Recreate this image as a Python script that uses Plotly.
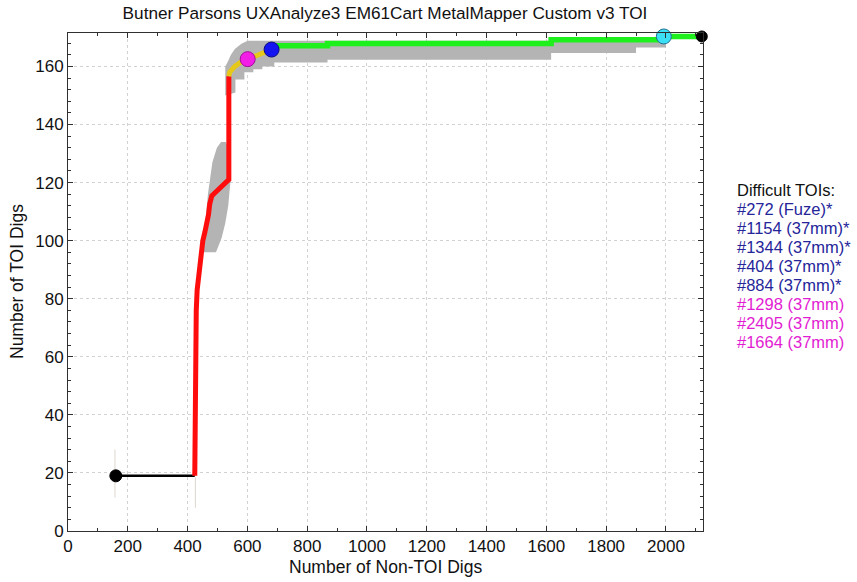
import plotly.graph_objects as go

# ---------------- data ----------------
title_text = "Butner Parsons UXAnalyze3 EM61Cart MetalMapper Custom v3 TOI"
x_title = "Number of Non-TOI Digs"
y_title = "Number of TOI Digs"

# initial black segment
black_x = [160, 424]
black_y = [19, 19]

# red portion of the curve
red_x = [424, 425, 427, 429, 432, 437, 444, 451, 458, 464, 470, 474, 481, 490, 497, 508, 518, 530, 538, 538]
red_y = [19, 50, 68, 76, 83, 88, 94, 100, 103, 105.7, 109, 112.6, 115.4, 116.3, 117, 118.3, 119.5, 120.3, 121, 156.6]

# yellow portion
yellow_x = [538, 541, 558, 581, 601, 634, 681]
yellow_y = [156.6, 158, 160, 161.7, 162.5, 164, 165.8]

# green portion
green_x = [681, 700, 868, 868, 1616, 1616, 1990, 1993, 2120]
green_y = [165.8, 167.1, 167.1, 167.9, 167.9, 169.2, 169.2, 170.3, 170.3]

# gray uncertainty bands (polygons)
band1_x = [450, 456, 463, 468, 475, 483, 498, 512, 528, 541, 543, 536, 526, 514, 495, 450]
band1_y = [96, 104, 110, 116, 122, 127, 132, 134, 134, 131, 120, 112, 106, 101, 96, 96]

band2_x = [526, 526, 534, 545, 558, 580, 601, 2000, 2000, 1900, 1900, 1616, 1616, 868, 868, 690, 690, 650, 650, 620, 620, 590, 590, 560, 560, 526]
band2_y = [150, 160, 161.5, 164, 166, 167.8, 168.8, 168.8, 166.5, 166.5, 164.6, 164.6, 162.3, 162.3, 161.3, 161.3, 160, 160, 159, 159, 158, 158, 155.5, 155.5, 151, 150]

# faint whiskers
whisk1_x = [157, 157]
whisk1_y = [11.5, 28]
whisk2_x = [426, 426]
whisk2_y = [8, 18.5]

# markers
start_pt = (160, 19)
end_pt = (2120, 170.3)
magenta_pt = (601, 162.5)
blue_pt = (681, 165.8)
cyan_pt = (1993, 170.3)

x_ticks = [0, 200, 400, 600, 800, 1000, 1200, 1400, 1600, 1800, 2000]
y_ticks = [0, 20, 40, 60, 80, 100, 120, 140, 160]

legend_header = "Difficult TOIs:"
legend_blue = ["#272 (Fuze)*", "#1154 (37mm)*", "#1344 (37mm)*", "#404 (37mm)*", "#884 (37mm)*"]
legend_magenta = ["#1298 (37mm)", "#2405 (37mm)", "#1664 (37mm)"]

# ---------------- figure ----------------
FONT = "Liberation Sans, Arial, sans-serif"
fig = go.Figure()

gray = "#b4b4b4"
for bx, by in [(band1_x, band1_y), (band2_x, band2_y)]:
    fig.add_trace(go.Scatter(x=bx, y=by, mode="lines", fill="toself",
                             fillcolor=gray, line=dict(width=0, color=gray),
                             hoverinfo="skip", showlegend=False))

for wx, wy in [(whisk1_x, whisk1_y), (whisk2_x, whisk2_y)]:
    fig.add_trace(go.Scatter(x=wx, y=wy, mode="lines",
                             line=dict(width=1, color="#ddd6cf"),
                             showlegend=False, hoverinfo="skip"))

fig.add_trace(go.Scatter(x=black_x, y=black_y, mode="lines",
                         line=dict(width=2.5, color="black"), showlegend=False))
fig.add_trace(go.Scatter(x=red_x, y=red_y, mode="lines",
                         line=dict(width=5, color="#ff0d0d"), showlegend=False))
fig.add_trace(go.Scatter(x=yellow_x, y=yellow_y, mode="lines",
                         line=dict(width=5, color="#e5c81a"), showlegend=False))
fig.add_trace(go.Scatter(x=green_x, y=green_y, mode="lines",
                         line=dict(width=5.5, color="#1ef01e"), showlegend=False))

def pt(p, color, size, lc):
    fig.add_trace(go.Scatter(x=[p[0]], y=[p[1]], mode="markers", cliponaxis=False,
                             marker=dict(size=size, color=color,
                                         line=dict(width=1, color=lc)),
                             showlegend=False))

pt(start_pt, "black", 12, "black")
pt(end_pt, "black", 11, "black")
pt(magenta_pt, "#f21ee6", 15, "#a0109a")
pt(blue_pt, "#1414f0", 15, "#0a0a80")
pt(cyan_pt, "#3ce0f5", 15, "#207090")

axis_common = dict(
    showline=True, linecolor="#303030", linewidth=1, mirror="ticks",
    ticks="inside", ticklen=5, tickcolor="#303030",
    showgrid=True, gridcolor="#d2d2d2", griddash="dot", gridwidth=1,
    zeroline=False,
    tickfont=dict(family=FONT, size=17, color="#111"),
)

fig.update_xaxes(range=[0, 2124], tickvals=x_ticks,
                 minor=dict(dtick=100, ticks="inside", ticklen=3, tickcolor="#303030", showgrid=False),
                 **axis_common)
fig.update_yaxes(range=[0, 171.5], tickvals=y_ticks,
                 minor=dict(dtick=4, ticks="inside", ticklen=3, tickcolor="#303030", showgrid=False),
                 **axis_common)

# target pixel layout of the plot area
L, R, T, B = 68, 154, 33, 51
W, H = 857, 582
ph = H - T - B
pw = W - L - R

def ypaper(ypix):
    return (H - B - ypix) / ph

def xpaper(xpix):
    return (xpix - L) / pw

ann = []
ann.append(dict(text=x_title, x=xpaper(385), y=ypaper(567), xref="paper", yref="paper",
                showarrow=False, xanchor="center", yanchor="middle",
                font=dict(family=FONT, size=17.5, color="#111")))
ann.append(dict(text=y_title, x=xpaper(17), y=ypaper(282), xref="paper", yref="paper",
                showarrow=False, xanchor="center", yanchor="middle", textangle=-90,
                font=dict(family=FONT, size=17.5, color="#111")))

lines = [(legend_header, "#111")] + [(t, "#25259a") for t in legend_blue] + [(t, "#e21cd2") for t in legend_magenta]
for i, (t, c) in enumerate(lines):
    ann.append(dict(text=t, x=xpaper(735), y=ypaper(190 + 19 * i), xref="paper", yref="paper",
                    showarrow=False, xanchor="left", yanchor="middle",
                    font=dict(family=FONT, size=16.5, color=c)))

fig.update_layout(
    width=W, height=H,
    margin=dict(l=L, r=R, t=T, b=B),
    paper_bgcolor="white", plot_bgcolor="white",
    title=dict(text=title_text, x=385 / W, xanchor="center",
               y=1 - 13 / H, yanchor="middle",
               font=dict(family=FONT, size=17.2, color="#111")),
    annotations=ann,
    showlegend=False,
)

fig.write_html("out.html", config={"displayModeBar": False},
               post_script="document.body.style.margin='0';document.body.style.padding='0';")
